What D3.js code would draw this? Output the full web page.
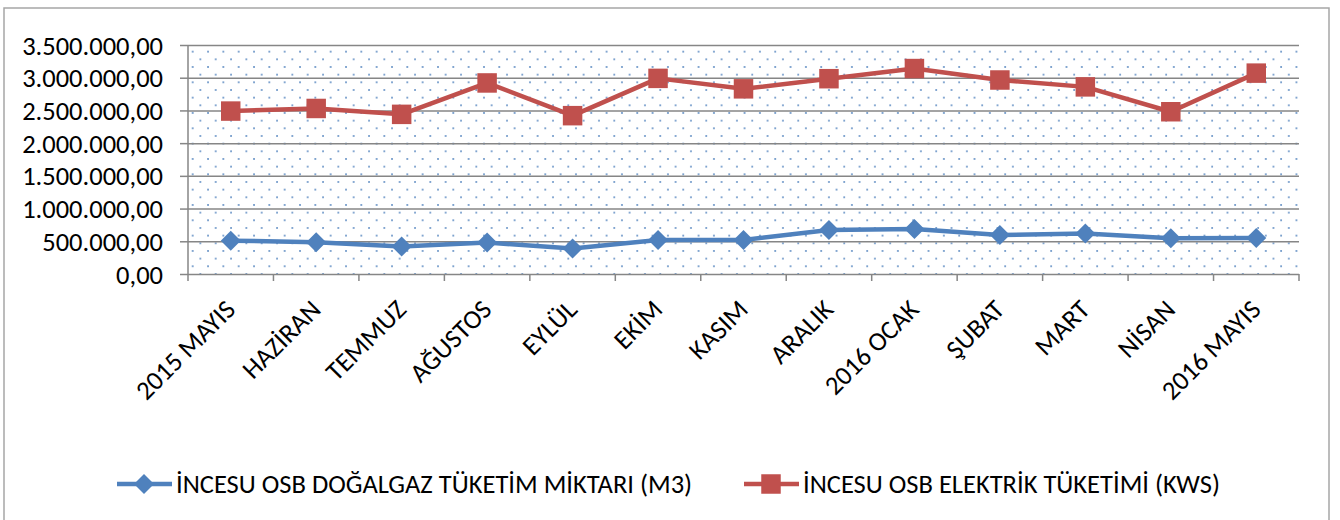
<!DOCTYPE html>
<html>
<head>
<meta charset="utf-8">
<script src="https://cdn.jsdelivr.net/npm/d3@7"></script>
<style>
  body { margin: 0; background: #fff; }
  text { font-family: Carlito, "Liberation Sans", sans-serif; fill: #000; }
</style>
</head>
<body>
<script>
const months = ["2015 MAYIS", "HAZİRAN", "TEMMUZ", "AĞUSTOS", "EYLÜL", "EKİM", "KASIM",
                "ARALIK", "2016 OCAK", "ŞUBAT", "MART", "NİSAN", "2016 MAYIS"];
const gasValues = [510000, 485000, 420000, 480000, 390000, 520000, 520000,
                   672000, 688000, 596000, 620000, 545000, 552000];
const elecValues = [2490000, 2530000, 2440000, 2920000, 2420000, 2990000, 2830000,
                    2985000, 3140000, 2965000, 2860000, 2480000, 3070000];
const yTicks = [0, 500000, 1000000, 1500000, 2000000, 2500000, 3000000, 3500000];
const seriesNames = ["İNCESU OSB DOĞALGAZ TÜKETİM MİKTARI (M3)", "İNCESU OSB ELEKTRİK TÜKETİMİ (KWS)"];

(function() {
    const width = 1340, height = 520,
          left = 188, right = 1299, top = 45, bottom = 274,
          fontSize = 26.5,
          gridColor = "#868686",
          blue = "#4f81bd", red = "#c0504d";

    const trFormat = d3.formatLocale({decimal: ",", thousands: ".", grouping: [3], currency: ["", ""]}).format(",.2f");

    let svg = d3.select("body").append("svg")
                .attr("width", width)
                .attr("height", height);

    // dotted fill of the plot area
    let pattern = svg.append("defs").append("pattern")
                     .attr("id", "dots")
                     .attr("patternUnits", "userSpaceOnUse")
                     .attr("x", left + 3.7).attr("y", top + 5.7)
                     .attr("width", 15.33).attr("height", 15.33);
    pattern.append("circle").attr("cx", 1).attr("cy", 1).attr("r", 0.9).attr("fill", blue);
    pattern.append("circle").attr("cx", 8.67).attr("cy", 8.67).attr("r", 0.9).attr("fill", blue);

    // chart border
    svg.append("rect")
       .attr("x", 4).attr("y", 8)
       .attr("width", 1325).attr("height", 530)
       .attr("fill", "none").attr("stroke", "#a6a6a6").attr("stroke-width", 1.5);

    let x = d3.scaleBand().domain(months).range([left, right]).padding(0);
    let y = d3.scaleLinear().domain([0, 3500000]).range([bottom, top]);
    let cx = d => x(d) + x.bandwidth() / 2;

    svg.append("rect")
       .attr("x", left).attr("y", top)
       .attr("width", right - left).attr("height", bottom - top)
       .attr("fill", "url(#dots)");

    // y axis with gridlines
    let yAxis = svg.append("g")
                   .attr("transform", `translate(${left},0)`)
                   .call(d3.axisLeft(y).tickValues(yTicks).tickFormat(trFormat).tickSize(8).tickPadding(17));
    yAxis.select(".domain").remove();
    yAxis.selectAll(".tick line").attr("stroke", gridColor).attr("stroke-width", 1.5)
         .attr("x2", -8).clone().attr("x2", right - left);
    yAxis.selectAll(".tick text").attr("font-size", fontSize).attr("dy", "0.34em");

    svg.append("line")
       .attr("x1", left).attr("x2", left).attr("y1", top).attr("y2", bottom)
       .attr("stroke", gridColor).attr("stroke-width", 1.5);

    // x axis: ticks between categories
    let xTickPos = months.map(m => x(m)).concat([right]);
    svg.append("g").selectAll("line")
       .data(xTickPos)
       .enter().append("line")
       .attr("x1", d => d).attr("x2", d => d)
       .attr("y1", bottom).attr("y2", bottom + 7)
       .attr("stroke", gridColor).attr("stroke-width", 1.5);

    svg.append("g").selectAll("text")
       .data(months)
       .enter().append("text")
       .attr("transform", d => `translate(${cx(d) - 8},${bottom + 23}) rotate(-45)`)
       .attr("text-anchor", "end")
       .attr("dy", "0.75em")
       .attr("font-size", fontSize)
       .text(d => d);

    // lines
    let line = d3.line().x((d, i) => cx(months[i])).y(d => y(d));

    svg.append("path").datum(gasValues)
       .attr("d", line).attr("fill", "none")
       .attr("stroke", blue).attr("stroke-width", 4.5).attr("stroke-linejoin", "round");
    svg.append("path").datum(elecValues)
       .attr("d", line).attr("fill", "none")
       .attr("stroke", red).attr("stroke-width", 4.5).attr("stroke-linejoin", "round");

    let diamond = d3.symbol().type(d3.symbolSquare).size(200);
    let square = d3.symbol().type(d3.symbolSquare).size(380);

    svg.append("g").selectAll("path")
       .data(gasValues)
       .enter().append("path")
       .attr("d", diamond)
       .attr("transform", (d, i) => `translate(${cx(months[i])},${y(d)}) rotate(45)`)
       .attr("fill", blue);

    svg.append("g").selectAll("path")
       .data(elecValues)
       .enter().append("path")
       .attr("d", square)
       .attr("transform", (d, i) => `translate(${cx(months[i])},${y(d)})`)
       .attr("fill", red);

    // legend
    const legendY = 484;
    let legend = svg.append("g");
    [[117, blue, diamond, 45], [744, red, square, 0]].forEach((item, k) => {
        let lx = item[0];
        legend.append("line")
              .attr("x1", lx).attr("x2", lx + 55)
              .attr("y1", legendY).attr("y2", legendY)
              .attr("stroke", item[1]).attr("stroke-width", 4.5);
        legend.append("path")
              .attr("d", item[2])
              .attr("transform", `translate(${lx + 27},${legendY}) rotate(${item[3]})`)
              .attr("fill", item[1]);
        legend.append("text")
              .attr("x", lx + 59).attr("y", legendY)
              .attr("dy", "0.35em")
              .attr("font-size", fontSize)
              .text(seriesNames[k]);
    });
})();
</script>
</body>
</html>
